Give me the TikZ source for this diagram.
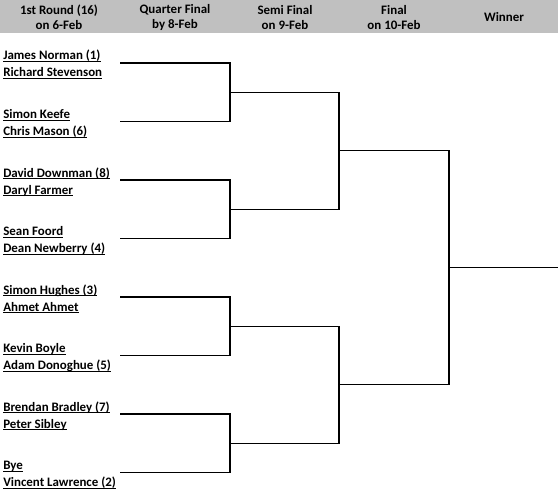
\documentclass[tikz,border=0pt]{standalone}
\usepackage{fontspec}
\setmainfont{Carlito}
\definecolor{hdr}{RGB}{192,192,192}
\newcommand\nameul[1]{\setbox0\hbox{#1}\rlap{\rule[-1.6pt]{\wd0}{0.75pt}}\box0}
\tikzset{
  pname/.style={anchor=base west, inner sep=0pt, font=\bfseries\fontsize{9.7}{11}\selectfont},
  htext/.style={align=center, inner sep=0pt, font=\bfseries\fontsize{9.7}{11.25}\selectfont},
  bracket/.style={line width=1pt, black},
}
\begin{document}
\begin{tikzpicture}[x=0.75pt,y=-0.75pt]
\useasboundingbox (0,0) rectangle (560,492);
\fill[hdr] (0,0) rectangle (558,33);
\node[htext] (h1) at (59,17.5) {1st Round (16)\\on 6-Feb};
\node[htext] (h2) at (175,17.5) {Quarter Final\\by 8-Feb};
\node[htext] (h3) at (285,17.5) {Semi Final\\on 9-Feb};
\node[htext] (h4) at (394,17.5) {Final\\on 10-Feb};
\node[htext] (h5) at (504,17.5) {Winner};
% names
\foreach \i/\L/\na/\nb in {
  1/63/{James Norman (1)}/{Richard Stevenson},
  2/121.5/{Simon Keefe}/{Chris Mason (6)},
  3/180/{David Downman (8)}/{Daryl Farmer},
  4/238.5/{Sean Foord}/{Dean Newberry (4)},
  5/297/{Simon Hughes (3)}/{Ahmet Ahmet},
  6/355.5/{Kevin Boyle}/{Adam Donoghue (5)},
  7/414/{Brendan Bradley (7)}/{Peter Sibley},
  8/472.5/{Bye}/{Vincent Lawrence (2)}}{
  \node[pname] (p\i a) at (3,\L-3) {\nameul{\na}};
  \node[pname] (p\i b) at (3,\L+14) {\nameul{\nb}};
  \coordinate (a\i) at (120,\L);
}
% match points
\coordinate (q1) at (230,92.25);
\coordinate (q2) at (230,209.25);
\coordinate (q3) at (230,326.25);
\coordinate (q4) at (230,443.25);
\coordinate (s1) at (339,150.75);
\coordinate (s2) at (339,384.75);
\coordinate (f) at (449,267.75);
\coordinate (w) at (558,267.75);
\draw[bracket] (a1) -| (q1) |- (a2);
\draw[bracket] (a3) -| (q2) |- (a4);
\draw[bracket] (a5) -| (q3) |- (a6);
\draw[bracket] (a7) -| (q4) |- (a8);
\draw[bracket] (q1) -| (s1) |- (q2);
\draw[bracket] (q3) -| (s2) |- (q4);
\draw[bracket] (s1) -| (f) |- (s2);
\draw[bracket] (f) -- (w);
\end{tikzpicture}
\end{document}
